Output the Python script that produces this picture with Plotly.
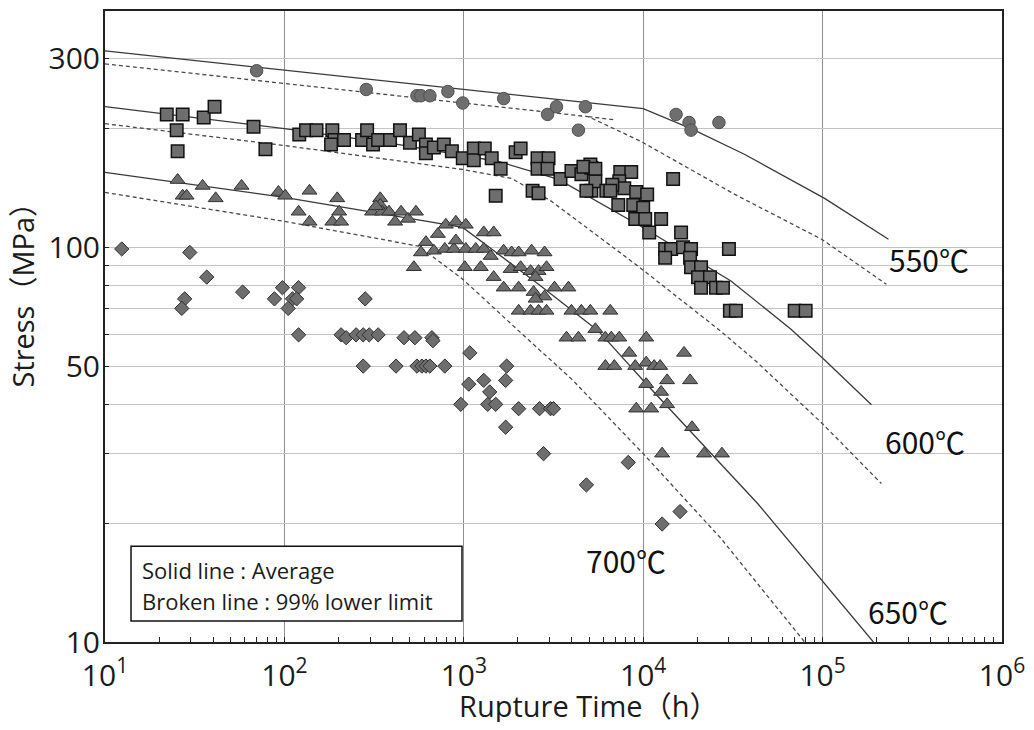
import plotly.graph_objects as go

# ---------------- data ----------------
# 550 degC (circles)
t550 = [70, 286, 548, 577, 647, 815, 987, 1668, 2929, 3285,
        4762, 4355, 15250, 18010, 18480, 26430]
s550 = [280, 251, 242, 242, 242, 248, 232, 238, 217, 227,
        227, 198, 217, 207, 198, 207]

# 600 degC (squares)
t600 = [22.1, 27.1, 35.5, 40.8, 25.1, 25.4, 67.3, 78.4, 121, 132,
        151, 185, 190, 182, 215, 271, 289, 312, 333, 388,
        441, 501, 562, 615, 615, 681, 774, 858, 987, 1137,
        1137, 1309, 1431, 1605, 1506, 1945, 2074, 2418, 2610, 2577,
        2967, 2577, 2929, 3458, 3981, 4524, 5141, 5141, 5412, 5076,
        6229, 7451, 8577, 7356, 7843, 9143, 10520, 7263, 8799, 10000,
        9027, 10260, 12590, 14680, 10800, 16260, 13250, 14310, 16680, 18480,
        13250, 18250, 18480, 21000, 20220, 23560, 21000, 25440, 27830, 30050,
        30430, 32860, 69890, 80430, 4642, 5412, 4824, 6726, 6554]
s600 = [217, 217, 213, 227, 198, 175, 202, 177, 193, 198,
        198, 198, 187, 182, 187, 187, 198, 182, 187, 187,
        198, 184, 193, 182, 173, 179, 182, 175, 168, 178,
        166, 178, 168, 158, 135, 174, 178, 139, 137, 168,
        168, 158, 158, 149, 156, 153, 159, 139, 147, 162,
        139, 155, 155, 147, 141, 138, 136, 128, 128, 126,
        118, 118, 118, 149, 109, 109, 99, 99, 100, 99,
        94, 94, 89, 89, 84, 84, 79, 79, 79, 99,
        69, 69, 69, 69, 160, 158, 139, 144, 139]

# 650 degC (triangles)
t650 = [25.4, 27.1, 28.5, 35.0, 41.4, 57.7, 92.6, 101, 138, 120,
        138, 197, 202, 185, 207, 342, 342, 308, 350, 383,
        414, 447, 489, 541, 717, 794, 903, 1026, 615, 577,
        681, 784, 880, 903, 1026, 1166, 1292, 1292, 1468, 527,
        1013, 1243, 1413, 1468, 1668, 1848, 2022, 2387, 2818, 1824,
        2074, 2356, 2610, 2891, 2512, 1668, 2022, 2449, 2818, 3203,
        3831, 2022, 2356, 2610, 2891, 3981, 4524, 5076, 6554, 5412,
        3734, 4355, 6150, 6640, 7356, 10390, 8362, 16890, 6150, 6902,
        9027, 10390, 11510, 12430, 13590, 18250, 10390, 12590, 9143, 11080,
        13590, 18720, 12750, 21830, 27470, 2512, 324]
s650 = [148, 135, 135, 143, 133, 143, 138, 135, 139, 123,
        116, 133, 123, 116, 116, 133, 128, 123, 123, 123,
        116, 123, 118, 123, 108, 114, 116, 114, 103, 97,
        98, 99, 99, 104, 99, 99, 99, 109, 109, 89,
        89, 89, 95, 84, 98, 97, 97, 98, 97, 88,
        89, 87, 87, 89, 84, 79, 79, 77, 75, 79,
        79, 69, 69, 69, 69, 69, 69, 69, 69, 62,
        59, 59, 59, 59, 59, 59, 54, 54, 50, 50,
        50, 51, 50, 50, 46, 46, 45, 43, 39, 39,
        40, 35, 30, 30, 30, 74, 127]

# 700 degC (diamonds)
t700 = [12.4, 29.7, 36.9, 27.8, 26.8, 58.5, 97.5, 120, 88.0, 111,
        117, 105, 120, 282, 207, 221, 251, 275, 297, 333,
        464, 534, 664, 673, 1080, 275, 419, 548, 584, 615,
        647, 784, 1733, 1066, 1292, 1395, 1711, 962, 1359, 1506,
        2022, 2644, 3044, 3162, 1711, 2783, 4824, 8254, 16050, 12750]
s700 = [99, 97, 84, 74, 70, 77, 79, 79, 74, 74,
        74, 70, 60, 74, 60, 59, 60, 60, 60, 60,
        59, 59, 59, 58, 54, 50, 50, 50, 50, 50,
        50, 50, 50, 45, 46, 43, 46, 40, 40, 40,
        39, 39, 39, 39, 35, 30, 25, 28.5, 21.4, 19.9]

# average (solid) and 99% lower limit (broken) curves
avg550_t = [10, 10000, 18490, 36870, 102600, 232800]
avg550_s = [314.5, 224.4, 199.8, 171.8, 133.0, 104.8]
low550_t = [10, 4946, 9750, 32430, 98650, 226800]
low550_s = [291.5, 214.2, 185.2, 136.1, 104.8, 80.6]
low550b_t = [4946, 6810]
low550b_s = [214.2, 210.5]

avg600_t = [10, 100, 435.5, 1564, 3373, 10130, 30840, 66400, 101300, 187200]
avg600_s = [227.1, 199.8, 182.0, 164.9, 148.5, 111.7, 82.1, 62.1, 52.1, 39.9]
low600_t = [10, 100, 986, 1848, 3083, 4351, 9380, 26100, 42440, 100000, 212700]
low600_s = [205.6, 181.0, 157.4, 149.4, 130.7, 116.3, 89.5, 62.1, 51.5, 35.7, 25.2]

avg650_t = [10, 100, 986, 2610, 5623, 10390, 43550, 100000, 191900]
avg650_s = [154.7, 133.8, 112.3, 80.6, 61.4, 45.1, 22.4, 14.3, 10]
low650_t = [10, 100, 562, 986, 2022, 3981, 10000, 27120, 79430]
low650_s = [137.7, 116.3, 100.6, 83.0, 61.4, 46.4, 30.0, 18.3, 10]

x_major = [10, 100, 1000, 10000, 100000, 1000000]
x_labels = ["10<sup>1</sup>", "10<sup>2</sup>", "10<sup>3</sup>",
            "10<sup>4</sup>", "10<sup>5</sup>", "10<sup>6</sup>"]
y_grid = [10, 20, 30, 40, 50, 60, 70, 80, 90, 100, 200, 300]
y_labels = ["10", " ", " ", " ", "50", " ", " ", " ", " ", "100", " ", "300"]
temp_labels = ["550℃", "600℃", "700℃", "650℃"]

# ---------------- figure ----------------
fig = go.Figure()

SOLID = dict(color="#3a3a3a", width=1.3)
DASH = dict(color="#4a4a4a", width=1.3, dash="4px,3px")

for tx, sy, ln in [(avg550_t, avg550_s, SOLID), (low550_t, low550_s, DASH),
                   (low550b_t, low550b_s, DASH),
                   (avg600_t, avg600_s, SOLID), (low600_t, low600_s, DASH),
                   (avg650_t, avg650_s, SOLID), (low650_t, low650_s, DASH)]:
    fig.add_trace(go.Scatter(x=tx, y=sy, mode="lines", line=ln,
                             showlegend=False, hoverinfo="skip"))

FILL = "#6e6e6e"
fig.add_trace(go.Scatter(x=t700, y=s700, mode="markers", showlegend=False,
                         marker=dict(symbol="diamond", size=11, color=FILL,
                                     line=dict(color="#303030", width=1))))
fig.add_trace(go.Scatter(x=t650, y=s650, mode="markers", showlegend=False,
                         marker=dict(symbol="triangle-up", size=13, color=FILL,
                                     line=dict(color="#303030", width=1))))
fig.add_trace(go.Scatter(x=t600, y=s600, mode="markers", showlegend=False,
                         marker=dict(symbol="square", size=12.5, color=FILL,
                                     line=dict(color="#111111", width=1.5))))
fig.add_trace(go.Scatter(x=t550, y=s550, mode="markers", showlegend=False,
                         marker=dict(symbol="circle", size=12.5, color=FILL,
                                     line=dict(color="#505050", width=1))))
# empty trace carrying the minor-tick axis
fig.add_trace(go.Scatter(x=[], y=[], xaxis="x2", showlegend=False))

x_minor = [m * 10 ** k for k in range(1, 6) for m in range(2, 10)]

TICKFONT = dict(family="Open Sans, Noto Sans CJK JP", size=30, color="#1b1b1b")

# the page body has an 8px margin: figure is sized to fit inside the window
fig.update_layout(
    width=1018, height=714,
    margin=dict(l=97, r=24, t=1, b=80),
    paper_bgcolor="white", plot_bgcolor="white",
    xaxis=dict(type="log", range=[1, 6], tickvals=x_major, ticktext=x_labels,
               showgrid=True, gridcolor="#8f8f8f", gridwidth=1,
               ticks="inside", ticklen=5, tickcolor="#222",
               showline=True, mirror=True, linecolor="#222", linewidth=1.5,
               zeroline=False, tickfont=TICKFONT, ticklabelstandoff=6),
    xaxis2=dict(type="log", range=[1, 6], overlaying="x", anchor="y", side="bottom",
                tickvals=x_minor, ticks="inside", ticklen=5, tickcolor="#222",
                showticklabels=False, showgrid=False, showline=False, zeroline=False),
    yaxis=dict(type="log", range=[1, 1 + 633 / 396], tickvals=y_grid, ticktext=y_labels,
               showgrid=True, gridcolor="#c4c4c4", gridwidth=1.2,
               ticks="inside", ticklen=4, tickcolor="#222",
               showline=True, mirror=True, linecolor="#222", linewidth=2,
               zeroline=False, tickfont=TICKFONT, ticklabelstandoff=-3),
)

# legend box
fig.add_shape(type="rect", xref="paper", yref="paper",
              x0=0.029, x1=0.398, y0=0.0332, y1=0.1517,
              line=dict(color="#111", width=1.5), fillcolor="white", layer="above")
LEGFONT = dict(family="Open Sans, Noto Sans", size=22, color="#1b1b1b")
fig.add_annotation(xref="paper", yref="paper", x=0.0395, y=0.1137,
                   text="Solid line : Average", showarrow=False,
                   xanchor="left", yanchor="middle", font=LEGFONT)
fig.add_annotation(xref="paper", yref="paper", x=0.0395, y=0.0648,
                   text="Broken line : 99% lower limit", showarrow=False,
                   xanchor="left", yanchor="middle", font=LEGFONT)

# temperature labels
TFONT = dict(family="Noto Sans CJK JP", size=30, color="#111")
for txt, xp, yp in zip(temp_labels, [0.9186, 0.9142, 0.5808, 0.8952],
                       [0.6066, 0.3191, 0.1295, 0.0490]):
    fig.add_annotation(xref="paper", yref="paper", x=xp, y=yp, text=txt,
                       showarrow=False, xanchor="center", yanchor="middle", font=TFONT)

# axis titles
TITLEFONT = dict(family="Open Sans, Noto Sans CJK JP", size=29, color="#1b1b1b")
fig.add_annotation(xref="paper", yref="paper", x=0.5385, y=-0.1011,
                   text="Rupture Time（h）", showarrow=False,
                   xanchor="center", yanchor="middle", font=TITLEFONT)
fig.add_annotation(xref="paper", yref="paper", x=-0.0920, y=0.5624,
                   text="Stress（MPa）", showarrow=False, textangle=-90,
                   xanchor="center", yanchor="middle", font=TITLEFONT)

fig.write_html("out.html")
